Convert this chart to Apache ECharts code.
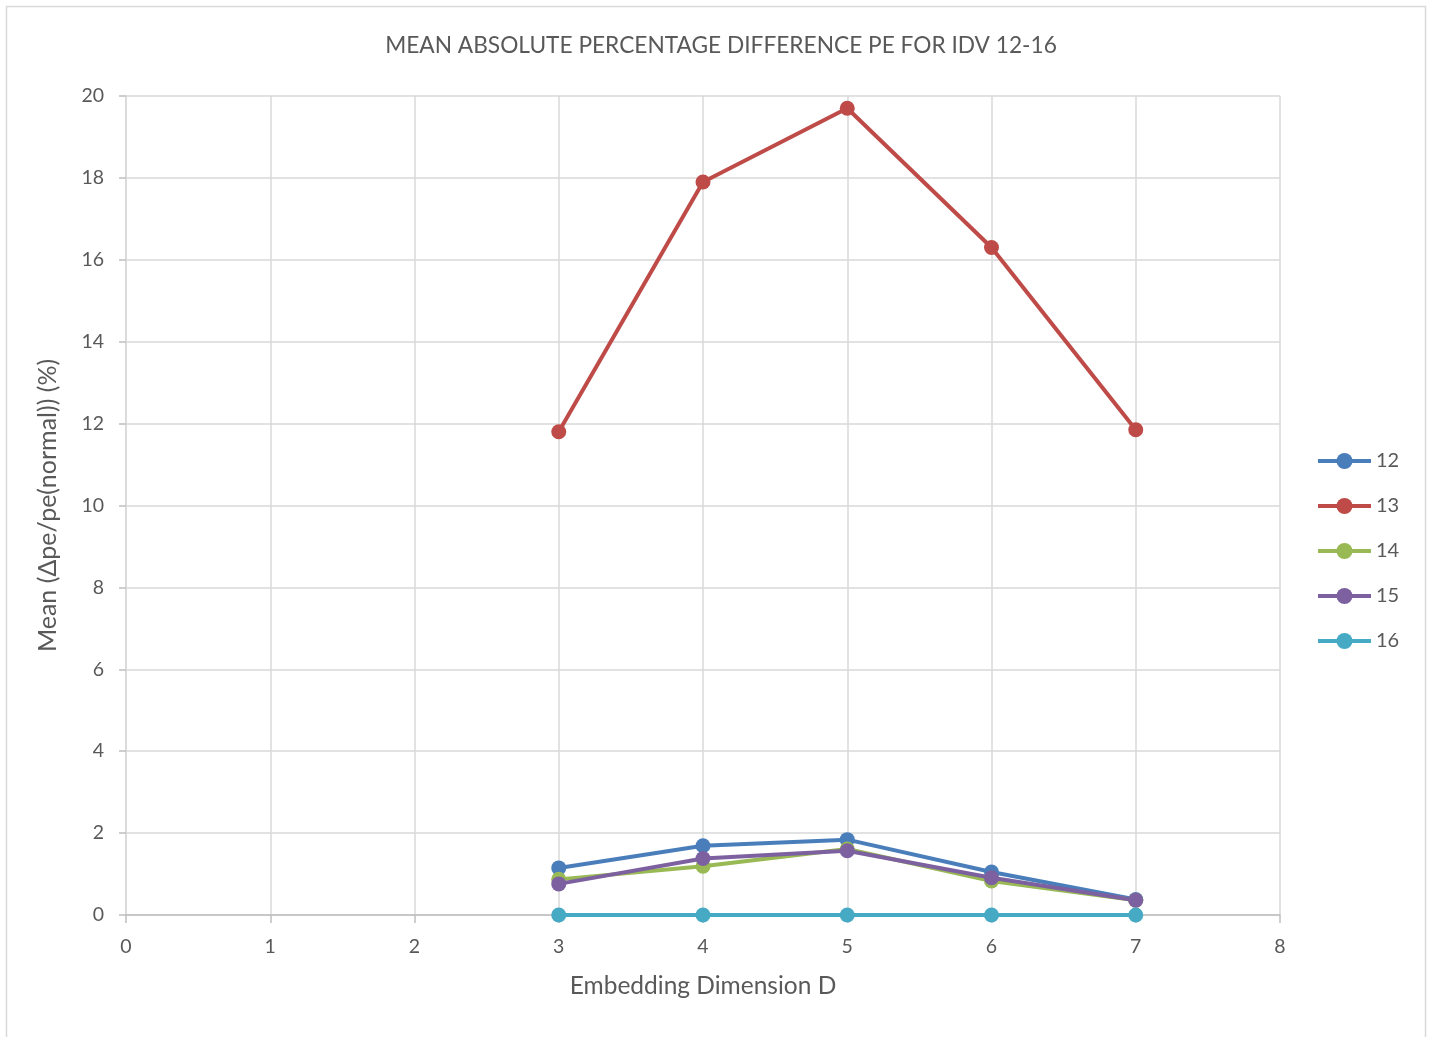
<!DOCTYPE html>
<html>
<head>
<meta charset="utf-8">
<script src="https://cdn.jsdelivr.net/npm/echarts@6/dist/echarts.min.js"></script>
<style>
  html, body { margin: 0; padding: 0; background: #fff; }
  #chart { width: 1434px; height: 1037px; }
</style>
</head>
<body>
<div id="chart"></div>
<script>
// Embedding dimension D on the x axis
const dims = [3, 4, 5, 6, 7];

// Mean absolute percentage difference of PE for each disturbance (IDV)
const idv12 = [1.15, 1.69, 1.84, 1.05, 0.38];
const idv13 = [11.8, 17.9, 19.7, 16.3, 11.85];
const idv14 = [0.87, 1.19, 1.61, 0.83, 0.36];
const idv15 = [0.76, 1.38, 1.57, 0.91, 0.36];
const idv16 = [0, 0, 0, 0, 0];

const seriesNames = ['12', '13', '14', '15', '16'];
const seriesColors = ['#4a7ebb', '#be4b48', '#98b954', '#7d60a0', '#46aac5'];
const seriesValues = [idv12, idv13, idv14, idv15, idv16];

const textColor = '#595959';
const fontFamily = 'Lato, "Open Sans", "Liberation Sans", sans-serif';

const chart = echarts.init(document.getElementById('chart'), null, { renderer: 'canvas' });

chart.setOption({
  backgroundColor: '#ffffff',
  animation: false,
  textStyle: { fontFamily: fontFamily, color: textColor },
  title: {
    text: 'MEAN ABSOLUTE PERCENTAGE DIFFERENCE PE FOR IDV 12-16',
    left: 716,
    top: 29,
    textAlign: 'center',
    textStyle: { fontSize: 22.7, fontWeight: 'normal', color: textColor, fontFamily: fontFamily }
  },
  graphic: [{
    type: 'rect',
    shape: { x: 6.5, y: 6.5, width: 1419, height: 1040 },
    style: { fill: 'none', stroke: '#d9d9d9', lineWidth: 1.5 },
    silent: true
  }],
  legend: {
    orient: 'vertical',
    left: 1316,
    top: 451,
    padding: 0,
    itemGap: 25,
    itemWidth: 53,
    itemHeight: 20,
    data: seriesNames,
    lineStyle: { width: 4 },
    textStyle: { fontSize: 20, color: textColor, fontFamily: fontFamily, padding: [0, 0, 0, 0] }
  },
  grid: {
    left: 126,
    right: 1434 - 1280,
    top: 96,
    bottom: 1037 - 915,
    containLabel: false
  },
  xAxis: {
    type: 'value',
    min: 0,
    max: 8,
    interval: 1,
    name: 'Embedding Dimension D',
    nameLocation: 'middle',
    nameGap: 59,
    nameTextStyle: { fontSize: 24.5, color: textColor, fontFamily: fontFamily },
    axisLine: { show: true, onZero: false, lineStyle: { color: '#bfbfbf', width: 1.5 } },
    axisTick: { show: true, length: 8, lineStyle: { color: '#bfbfbf', width: 1.5 } },
    axisLabel: { fontSize: 19.5, color: textColor, margin: 22, fontFamily: fontFamily },
    splitLine: { show: true, lineStyle: { color: '#d9d9d9', width: 1.5 } }
  },
  yAxis: {
    type: 'value',
    min: 0,
    max: 20,
    interval: 2,
    name: 'Mean (\u0394pe/pe(normal)) (%)',
    nameLocation: 'middle',
    nameGap: 66,
    nameRotate: 90,
    nameTextStyle: { fontSize: 25, color: textColor, fontFamily: fontFamily },
    axisLine: { show: true, lineStyle: { color: '#d9d9d9', width: 1.5 } },
    axisTick: { show: true, length: 7, lineStyle: { color: '#bfbfbf', width: 1.5 } },
    axisLabel: { fontSize: 19.5, color: textColor, margin: 22, fontFamily: fontFamily },
    splitLine: { show: true, lineStyle: { color: '#d9d9d9', width: 1.5 } }
  },
  series: seriesNames.map((name, i) => ({
    name: name,
    type: 'line',
    data: dims.map((d, j) => [d, seriesValues[i][j]]),
    symbol: 'circle',
    symbolSize: 15,
    showSymbol: true,
    z: i === 4 ? 10 : 2 + i,
    itemStyle: { color: seriesColors[i] },
    lineStyle: { color: seriesColors[i], width: 4 }
  }))
});
</script>
</body>
</html>
